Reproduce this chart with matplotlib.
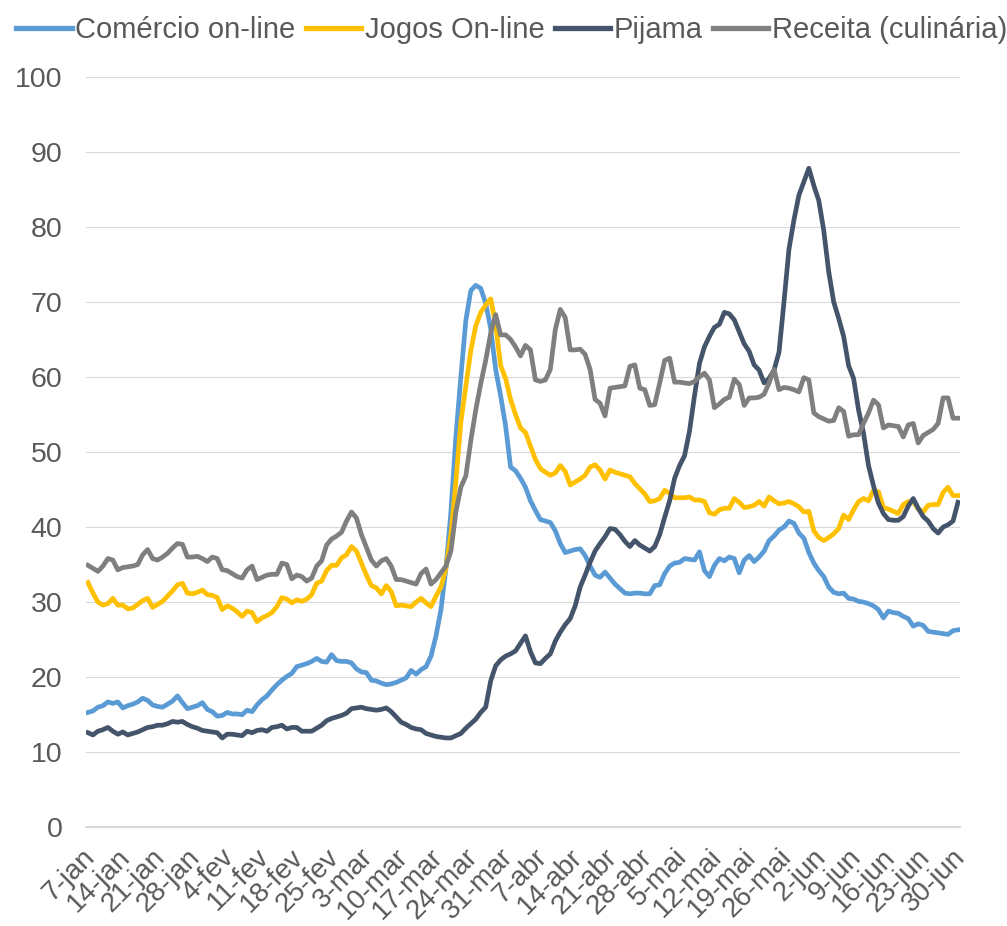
# interesse de pesquisa - jan a jun
import numpy as np
import matplotlib
matplotlib.use('Agg')
import matplotlib.pyplot as plt
import matplotlib.transforms as mtransforms

plt.rcParams['font.family'] = ['Liberation Sans', 'DejaVu Sans']

# dias desde 7-jan (dados diarios)
comercio = [15.3, 15.5, 16.0, 16.2, 16.7, 16.5, 16.7,
            15.9, 16.2, 16.4, 16.7, 17.2, 16.9, 16.3,
            16.1, 16.0, 16.4, 16.8, 17.5, 16.6, 15.8,
            16.0, 16.2, 16.6, 15.7, 15.4, 14.8, 14.9,
            15.3, 15.1, 15.1, 15.0, 15.6, 15.4, 16.3,
            17.0, 17.5, 18.3, 19.0, 19.6, 20.1, 20.5,
            21.4, 21.6, 21.8, 22.1, 22.5, 22.1, 22.0,
            23.0, 22.2, 22.1, 22.1, 21.9, 21.1, 20.7,
            20.6, 19.6, 19.5, 19.2, 19.0, 19.1, 19.3,
            19.6, 19.9, 20.9, 20.4, 21.0, 21.4, 22.8,
            25.5, 29.0, 34.5, 42.0, 52.0, 60.0, 67.5,
            71.5, 72.2, 71.8, 69.8, 66.5, 61.0, 57.5,
            53.5, 48.0, 47.5, 46.5, 45.3, 43.5, 42.2,
            41.0, 40.8, 40.6, 39.5, 37.8, 36.6, 36.8,
            37.0, 37.1, 36.2, 34.8, 33.6, 33.3, 34.0,
            33.2, 32.4, 31.8, 31.2, 31.1, 31.2, 31.2,
            31.1, 31.1, 32.2, 32.3, 33.8, 34.8, 35.2,
            35.3, 35.8, 35.7, 35.6, 36.7, 34.2, 33.4,
            34.9, 35.8, 35.5, 36.0, 35.8, 33.9, 35.6,
            36.2, 35.4, 36.0, 36.8, 38.2, 38.8, 39.6,
            40.0, 40.8, 40.5, 39.2, 38.5, 36.6, 35.2,
            34.2, 33.4, 32.0, 31.3, 31.1, 31.2, 30.5,
            30.4, 30.1, 30.0, 29.8, 29.5, 29.0, 27.9,
            28.8, 28.6, 28.5, 28.1, 27.8, 26.8, 27.1,
            26.9, 26.1, 26.0, 25.9, 25.8, 25.7, 26.2,
            26.3]

jogos = [32.6, 31.2, 30.0, 29.6, 29.8, 30.5, 29.6,
         29.6, 29.1, 29.2, 29.7, 30.2, 30.5, 29.3,
         29.7, 30.1, 30.8, 31.5, 32.3, 32.5, 31.2,
         31.1, 31.3, 31.6, 31.0, 30.9, 30.6, 29.0,
         29.5, 29.2, 28.7, 28.1, 28.8, 28.6, 27.4,
         27.9, 28.2, 28.6, 29.4, 30.6, 30.4, 29.9,
         30.3, 30.1, 30.4, 31.0, 32.5, 32.8, 34.2,
         34.9, 34.9, 35.9, 36.3, 37.4, 36.8, 35.2,
         33.6, 32.2, 31.9, 31.1, 32.2, 31.4, 29.5,
         29.6, 29.5, 29.4, 30.0, 30.5, 29.9, 29.4,
         30.8, 32.0, 34.5, 39.0, 46.0, 54.0, 58.8,
         63.5, 66.8, 68.6, 69.6, 70.4, 67.0, 61.5,
         59.8, 57.0, 55.0, 53.2, 52.6, 50.8, 49.0,
         47.8, 47.3, 46.9, 47.2, 48.2, 47.4, 45.6,
         46.0, 46.4, 46.9, 48.0, 48.3, 47.6, 46.4,
         47.6, 47.3, 47.1, 46.9, 46.7, 45.8, 45.1,
         44.4, 43.4, 43.5, 43.8, 44.9, 44.5, 43.9,
         43.9, 43.9, 44.0, 43.6, 43.6, 43.4, 41.9,
         41.7, 42.3, 42.5, 42.5, 43.8, 43.3, 42.6,
         42.7, 42.9, 43.4, 42.8, 44.0, 43.5, 43.1,
         43.2, 43.4, 43.1, 42.7, 42.0, 42.1, 39.5,
         38.6, 38.2, 38.6, 39.1, 39.8, 41.6, 41.0,
         42.3, 43.4, 43.8, 43.5, 44.9, 44.7, 42.6,
         42.4, 42.1, 41.8, 43.0, 43.4, 43.4, 42.4,
         42.0, 42.9, 43.0, 43.0, 44.6, 45.3, 44.2,
         44.2]

pijama = [12.6, 12.3, 12.8, 13.0, 13.3, 12.8, 12.4,
          12.7, 12.3, 12.5, 12.7, 13.0, 13.3, 13.4,
          13.6, 13.6, 13.8, 14.1, 14.0, 14.1, 13.7,
          13.4, 13.2, 12.9, 12.8, 12.7, 12.6, 11.9,
          12.4, 12.4, 12.3, 12.2, 12.8, 12.6, 12.9,
          13.0, 12.8, 13.3, 13.4, 13.6, 13.1, 13.3,
          13.3, 12.8, 12.8, 12.8, 13.2, 13.6, 14.2,
          14.5, 14.7, 14.9, 15.2, 15.8, 15.9, 16.0,
          15.8, 15.7, 15.6, 15.7, 15.9, 15.4, 14.7,
          14.0, 13.7, 13.3, 13.1, 13.0, 12.5, 12.3,
          12.1, 12.0, 11.9, 11.9, 12.2, 12.5, 13.2,
          13.8, 14.4, 15.3, 16.0, 19.5, 21.5, 22.3,
          22.8, 23.1, 23.5, 24.5, 25.5, 23.4, 21.9,
          21.8, 22.5, 23.1, 24.8, 26.0, 27.0, 27.8,
          29.5, 32.0, 33.6, 35.3, 36.8, 37.8, 38.7,
          39.8, 39.7, 39.0, 38.1, 37.4, 38.2, 37.6,
          37.2, 36.8, 37.4, 39.0, 41.3, 43.5, 46.5,
          48.2, 49.5, 52.8, 57.5, 61.8, 64.0, 65.4,
          66.6, 67.0, 68.6, 68.4, 67.6, 66.0, 64.4,
          63.4, 61.6, 60.9, 59.2, 59.8, 60.9, 63.3,
          70.0, 77.0, 80.9, 84.2, 86.0, 87.8, 85.5,
          83.5, 79.5, 74.0, 70.0, 67.8, 65.4, 61.5,
          59.8, 55.6, 52.5, 48.2, 45.5, 43.2, 41.8,
          41.0, 40.9, 40.9, 41.4, 42.8, 43.8, 42.5,
          41.4, 40.8, 39.8, 39.2, 40.0, 40.3, 40.8,
          43.3]

receita = [34.9, 34.5, 34.1, 34.8, 35.8, 35.6, 34.3,
           34.6, 34.7, 34.8, 35.0, 36.3, 37.0, 35.8,
           35.6, 36.0, 36.5, 37.2, 37.8, 37.7, 36.0,
           36.0, 36.1, 35.8, 35.4, 36.0, 35.8, 34.3,
           34.2, 33.8, 33.4, 33.2, 34.3, 34.8, 33.0,
           33.3, 33.6, 33.7, 33.7, 35.2, 35.0, 33.1,
           33.6, 33.4, 32.8, 33.2, 34.8, 35.5, 37.6,
           38.4, 38.8, 39.3, 40.8, 42.0, 41.2, 39.0,
           37.3, 35.6, 34.8, 35.5, 35.8, 34.8, 33.0,
           33.0, 32.8, 32.6, 32.4, 33.8, 34.4, 32.4,
           33.0, 33.9, 34.8, 36.8, 42.0, 45.3, 46.8,
           51.5, 55.6, 59.1, 62.2, 65.8, 68.3, 65.6,
           65.6, 65.0, 64.0, 62.8, 64.2, 63.6, 59.6,
           59.4, 59.6, 61.0, 66.3, 69.0, 67.9, 63.6,
           63.6, 63.7, 63.0, 61.0, 57.0, 56.5, 54.8,
           58.5, 58.6, 58.7, 58.8, 61.4, 61.6, 58.5,
           58.3, 56.2, 56.3, 59.2, 62.2, 62.5, 59.3,
           59.3, 59.2, 59.1, 59.4, 60.0, 60.5, 59.6,
           55.9, 56.4, 57.0, 57.3, 59.7, 59.0, 56.2,
           57.2, 57.2, 57.3, 57.7, 59.2, 61.0, 58.3,
           58.6, 58.5, 58.3, 58.0, 59.9, 59.6, 55.2,
           54.7, 54.4, 54.1, 54.2, 55.9, 55.4, 52.1,
           52.3, 52.3, 53.8, 55.2, 56.9, 56.3, 53.2,
           53.6, 53.5, 53.4, 52.0, 53.6, 53.8, 51.2,
           52.2, 52.6, 53.0, 53.8, 57.2, 57.2, 54.5,
           54.5]

tick_labels = ['7-jan', '14-jan', '21-jan', '28-jan', '4-fev', '11-fev', '18-fev',
               '25-fev', '3-mar', '10-mar', '17-mar', '24-mar', '31-mar', '7-abr',
               '14-abr', '21-abr', '28-abr', '5-mai', '12-mai', '19-mai', '26-mai',
               '2-jun', '9-jun', '16-jun', '23-jun', '30-jun']

series = ['Comércio on-line', 'Jogos On-line', 'Pijama', 'Receita (culinária)']
colors = ['#5B9BD5', '#FFC000', '#44546A', '#7F7F7F']

fig = plt.figure(figsize=(10.07, 9.26), dpi=100)
ax = fig.add_axes([0.0854, 0.1066, 0.8679, 0.8106])

dias = np.arange(len(comercio))
for vals, nome, cor in zip([comercio, jogos, pijama, receita], series, colors):
    ax.plot(dias, vals, color=cor, lw=3.4, label=nome, solid_joinstyle='round')

ax.set_ylim(0, 100)
ax.set_xlim(-0.4, len(comercio) - 0.6)
ax.set_yticks(range(0, 101, 10))
ax.set_xticks(dias[::7])
ax.set_xticklabels(tick_labels, rotation=45, ha='right', va='top',
                   rotation_mode='anchor')
ax.tick_params(axis='both', length=0, labelsize=20.5, colors='#595959')
ax.tick_params(axis='x', pad=12, labelsize=20)
ax.tick_params(axis='y', pad=17)

# desloca um pouco os rotulos do eixo x para a esquerda
desloc = mtransforms.ScaledTranslation(-6 / 100, 0, fig.dpi_scale_trans)
for lbl in ax.get_xticklabels():
    lbl.set_transform(lbl.get_transform() + desloc)

ax.grid(axis='y', color='#d9d9d9', lw=0.8)
ax.set_axisbelow(True)
for s in ['top', 'right', 'left']:
    ax.spines[s].set_visible(False)
ax.spines['bottom'].set_color('#d9d9d9')
ax.spines['bottom'].set_linewidth(1.5)

fig.legend(loc='upper center', bbox_to_anchor=(0.508, 1.005), ncol=4, frameon=False,
           fontsize=21, handlelength=1.9, handletextpad=0.12, columnspacing=0.35,
           borderaxespad=0.3, labelcolor='#595959')
for line in fig.legends[0].get_lines():
    line.set_linewidth(3.8)

plt.savefig('out.png', dpi=100)
